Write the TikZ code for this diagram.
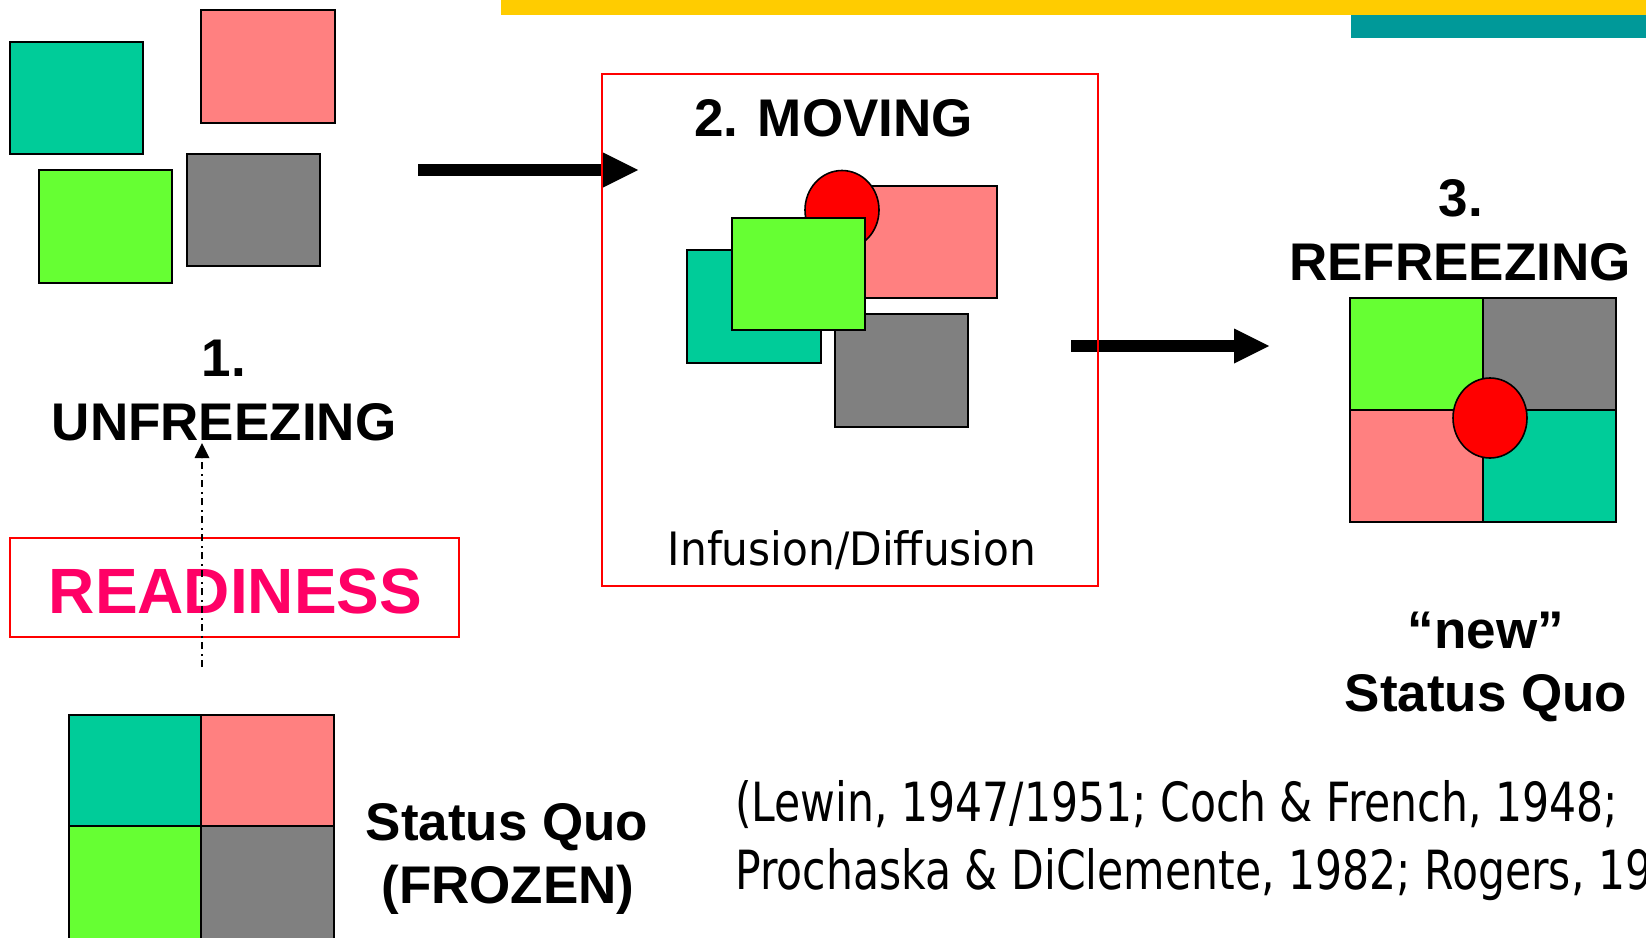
\documentclass[tikz,border=0pt]{standalone}
\usepackage{fontspec}
\setmainfont{Liberation Sans}
\newfontfamily\tahoma{DejaVu Sans}
\usetikzlibrary{arrows.meta}
\definecolor{cteal}{HTML}{00CC99}
\definecolor{cpink}{HTML}{FF8080}
\definecolor{cgreen}{HTML}{66FF33}
\definecolor{cgray}{HTML}{808080}
\definecolor{cyellow}{HTML}{FFCC00}
\definecolor{cbar}{HTML}{009999}
\definecolor{cmag}{HTML}{FF0066}
\tikzset{
  tile/.style={draw=black, line width=1.6pt},
  head/.style={font=\bfseries\fontsize{53}{64}\selectfont, inner sep=0pt, anchor=base},
  bigarrow/.style={line width=11.5pt, -{Triangle[length=35pt,width=35pt,line width=0pt]}},
  dasharrow/.style={line width=1.5pt, dash pattern=on 7pt off 4pt on 2pt off 5pt,
    -{Triangle[length=15pt,width=15pt,line width=0pt]}},
  redframe/.style={draw=red, line width=1.5pt, inner sep=0pt}
}
\begin{document}
\begin{tikzpicture}[x=1pt,y=-1pt]
\clip (0,0) rectangle (1646,937);
\fill[white] (0,0) rectangle (1646,937);
% top bars
\fill[cyellow] (501,0) rectangle (1646,15);
\fill[cbar] (1351,15) rectangle (1646,38);

% unfrozen cluster
\filldraw[tile, fill=cteal] (10,42) rectangle (143,154);
\filldraw[tile, fill=cpink] (201,10) rectangle (335,123);
\filldraw[tile, fill=cgreen] (39,170) rectangle (172,283);
\filldraw[tile, fill=cgray] (187,154) rectangle (320,266);

\node[head] (u1) at (224,376) {1.};
\node[head] (u2) at (224,440) {UNFREEZING};

% moving
\filldraw[tile, fill=cteal] (687,250) rectangle (821,363);
\filldraw[tile, fill=cgray] (835,314) rectangle (968,427);
\filldraw[tile, fill=cpink] (862,186) rectangle (997,298);
\filldraw[tile, fill=red] (842,210) ellipse [x radius=37, y radius=39.5];
\filldraw[tile, fill=cgreen] (732,218) rectangle (865,330);
\node[head] (m1) at (833.5,136.4) {2. MOVING};
\node[anchor=base, inner sep=0pt, font=\tahoma\fontsize{46}{46}\selectfont] (inf) at (852,565.5)
  {\scalebox{0.92}[1]{Infusion/Diffusion}};

% refreezing
\filldraw[tile, fill=cgreen] (1350,298) rectangle (1483,410);
\filldraw[tile, fill=cgray] (1483,298) rectangle (1616,410);
\filldraw[tile, fill=cpink] (1350,410) rectangle (1483,522);
\filldraw[tile, fill=cteal] (1483,410) rectangle (1616,522);
\filldraw[tile, fill=red] (1490,418) ellipse [x radius=37, y radius=40];
\node[head] (r1) at (1461,216) {3.};
\node[head] (r2) at (1460,280) {REFREEZING};
\node[head] (n1) at (1486,648) {“new”};
\node[head] (n2) at (1486,711) {Status Quo};

% frozen
\filldraw[tile, fill=cteal] (69,715) rectangle (201,826);
\filldraw[tile, fill=cpink] (201,715) rectangle (334,826);
\filldraw[tile, fill=cgreen] (69,826) rectangle (201,940);
\filldraw[tile, fill=cgray] (201,826) rectangle (334,940);
\node[head] (f1) at (507,840) {Status Quo};
\node[head] (f2) at (508,903) {(FROZEN)};

% citation
\node[anchor=base west, inner sep=0pt, font=\tahoma\fontsize{54}{54}\selectfont] (c1) at (735,821)
  {\scalebox{0.788}[1]{(Lewin, 1947/1951; Coch \& French, 1948;}};
\node[anchor=base west, inner sep=0pt, font=\tahoma\fontsize{54}{54}\selectfont] (c2) at (735,889)
  {\scalebox{0.788}[1]{Prochaska \& DiClemente, 1982; Rogers, 19}};

% arrows
\coordinate (a1s) at (418,170);
\coordinate (a1e) at (638,170);
\draw[bigarrow] (a1s) -- (a1e);
\coordinate (a2s) at (1071,346);
\coordinate (a2e) at (1269,346);
\draw[bigarrow] (a2s) -- (a2e);

% frames
\node[redframe, minimum width=496pt, minimum height=512pt] (movebox) at (850,330) {};
\node[redframe, minimum width=449pt, minimum height=99pt] (readybox) at (234.5,587.5) {};
\node[anchor=base, inner sep=0pt, text=cmag, font=\bfseries\fontsize{64}{64}\selectfont] (ready) at (235.5,613) {READINESS};

% readiness arrow
\coordinate (d0) at (202,667);
\coordinate (d1) at (202,443);
\draw[dasharrow] (d0) -- (d1);
\end{tikzpicture}
\end{document}
